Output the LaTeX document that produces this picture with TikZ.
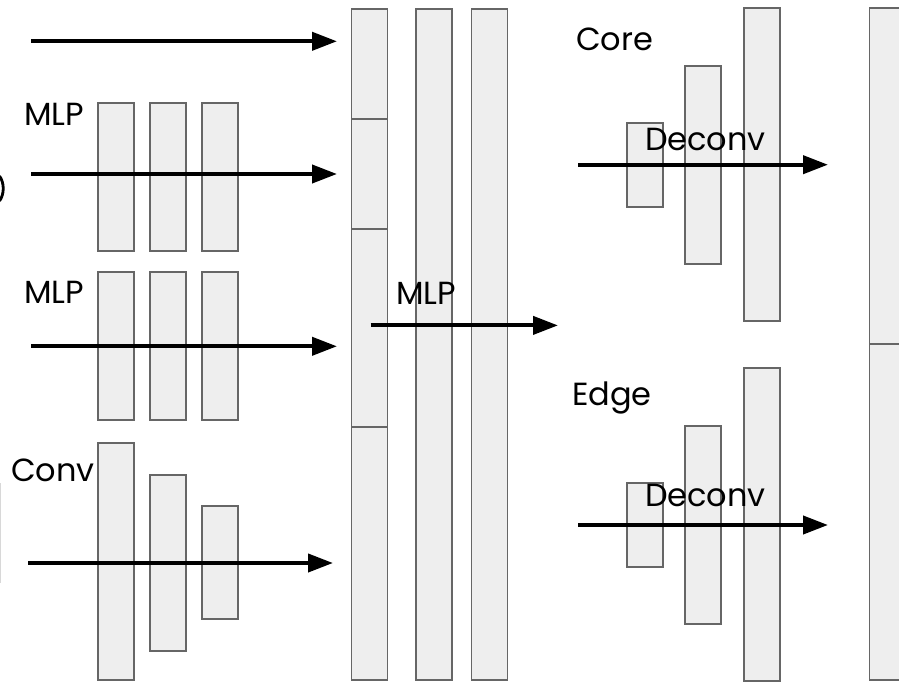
\documentclass[tikz,border=0pt]{standalone}
\usepackage{fontspec}
\setmainfont{Poppins}
\usetikzlibrary{arrows.meta}
\definecolor{boxfill}{HTML}{EEEEEE}
\definecolor{boxline}{HTML}{666666}
\definecolor{edgegray}{HTML}{D8D8D8}
\begin{document}
\begin{tikzpicture}[x=1pt,y=-1pt,
  blk/.style={rectangle,draw=boxline,fill=boxfill,line width=1.8pt,minimum width=36pt,inner sep=0pt,outer sep=0pt},
  arr/.style={line width=4pt,-{Triangle[length=25pt,width=18pt]}},
  lbl/.style={inner sep=0pt,outer sep=0pt,anchor=base west,font=\fontsize{32}{38}\selectfont}]
\useasboundingbox (0,0) rectangle (899,682);
\clip (0,0) rectangle (899,682);
\fill[white] (0,0) rectangle (899,682);

% clipped fragments at the left edge
\draw[line width=2.8pt] (-0.5,176) .. controls (4.5,183) and (4.5,194) .. (-0.5,201);
\draw[edgegray,line width=1pt] (0.5,483) -- (0.5,583);

% MLP group 1
\node[blk,minimum height=147.7pt] (m1a) at (116,176.85) {};
\node[blk,minimum height=147.7pt] (m1b) at (168,176.85) {};
\node[blk,minimum height=147.7pt] (m1c) at (220,176.85) {};
% MLP group 2
\node[blk,minimum height=148pt] (m2a) at (116,346.3) {};
\node[blk,minimum height=148pt] (m2b) at (168,346.3) {};
\node[blk,minimum height=148pt] (m2c) at (220,346.3) {};
% Conv group
\node[blk,minimum height=236.7pt] (c1) at (116,561.65) {};
\node[blk,minimum height=175.7pt] (c2) at (168,562.85) {};
\node[blk,minimum height=113pt] (c3) at (220,562.8) {};

% middle columns
\node[blk,minimum height=110pt] (ca1) at (369.5,64) {};
\node[blk,minimum height=110pt] (ca2) at (369.5,174) {};
\node[blk,minimum height=198pt] (ca3) at (369.5,328) {};
\node[blk,minimum height=253pt] (ca4) at (369.5,553.5) {};
\node[blk,minimum height=671pt] (cb) at (434,344.5) {};
\node[blk,minimum height=671pt] (cc) at (489.5,344.5) {};

% Core deconv group
\node[blk,minimum height=84pt] (k1) at (645,164.7) {};
\node[blk,minimum height=198.3pt] (k2) at (703,164.85) {};
\node[blk,minimum height=313pt] (k3) at (762,164.8) {};
% Edge deconv group
\node[blk,minimum height=84.3pt] (e1) at (645,524.85) {};
\node[blk,minimum height=198.6pt] (e2) at (703,525) {};
\node[blk,minimum height=312.4pt] (e3) at (762,524.5) {};

% right column (clipped by the page edge)
\node[blk,minimum height=335.7pt] (r1) at (887.5,176.15) {};
\node[blk,minimum height=336pt] (r2) at (887.5,512) {};

% arrow end points
\coordinate (s1) at (31,41.3);   \coordinate (t1) at (337,41.3);
\coordinate (s2) at (31,174);    \coordinate (t2) at (337,174);
\coordinate (s3) at (31,346.3);  \coordinate (t3) at (337,346.3);
\coordinate (s4) at (28,563);    \coordinate (t4) at (333,563);
\coordinate (s5) at (370.7,325.4); \coordinate (t5) at (558,325.4);
\coordinate (s6) at (578,164.7); \coordinate (t6) at (828,164.7);
\coordinate (s7) at (578,525);   \coordinate (t7) at (828,525);

\draw[arr] (s1) -- (t1);
\draw[arr] (s2) -- (t2);
\draw[arr] (s3) -- (t3);
\draw[arr] (s4) -- (t4);
\draw[arr] (s5) -- (t5);
\draw[arr] (s6) -- (t6);
\draw[arr] (s7) -- (t7);

% labels
\node[lbl] (l1) at (24,125) {MLP};
\node[lbl] (l2) at (24,303.3) {MLP};
\node[lbl] (l3) at (11,481.7) {Conv};
\node[lbl] (l4) at (396,304) {MLP};
\node[lbl] (l5) at (576,51) {Core};
\node[lbl] (l6) at (645,150) {Deconv};
\node[lbl] (l7) at (572,405) {Edge};
\node[lbl] (l8) at (645,506.7) {Deconv};
\end{tikzpicture}
\end{document}
